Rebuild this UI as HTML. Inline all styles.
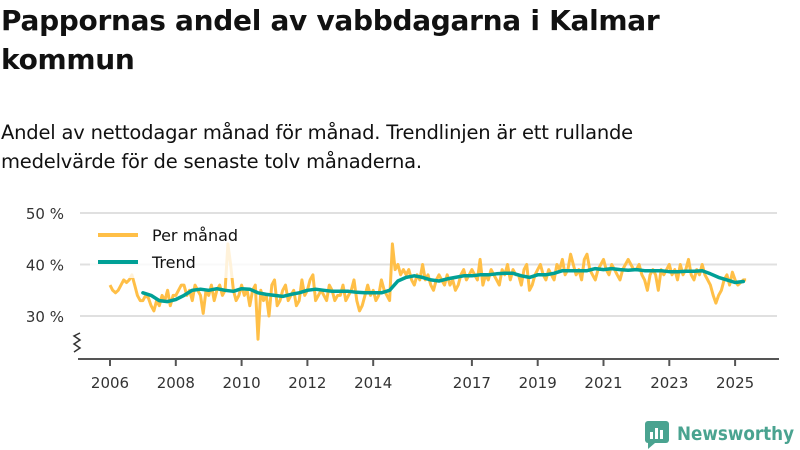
<!DOCTYPE html>
<html><head><meta charset="utf-8">
<style>
body{margin:0;width:800px;height:450px;background:#fff;font-family:"DejaVu Sans","Liberation Sans",sans-serif;color:#111;overflow:hidden;position:relative}
#title{position:absolute;left:1px;top:1px;font-size:28px;font-weight:bold;line-height:39px;margin:0;letter-spacing:-0.3px}
#sub{position:absolute;left:1px;top:118px;font-size:19.5px;line-height:29px;margin:0;letter-spacing:-0.2px}
svg{position:absolute;left:0;top:0;font-family:"DejaVu Sans","Liberation Sans",sans-serif}
</style></head><body>
<h1 id="title">Pappornas andel av vabbdagarna i Kalmar<br>kommun</h1>
<p id="sub">Andel av nettodagar månad för månad. Trendlinjen är ett rullande<br>medelvärde för de senaste tolv månaderna.</p>
<svg id="chart" width="800" height="450"></svg>
<script>
const monthlyStart = 2006.0;
const monthly = [
36,35,34.5,35,36,37,36.5,37,38,36,34,33,
33,34,33.5,32,31,33,32,34,33,35,32,34,
34,35,36,36,34,35,33,36,35,34,30.5,35,
34,36,33,35,36,34,35,44,40,35,33,34,
36,34,35,32,35,36,25.5,35,33,34,30,36,
37,32,33,35,36,33,34,35,32,33,37,34,
35,37,38,33,34,35,34,33,36,35,33,34,
34,36,33,34,35,37,33,31,32,34,36,34,
35,33,34,37,35,34,33,44,39,40,38,39,
38,39,37,36,38,37,40,37,38,36,35,37,
38,37,36,38,36,37,35,36,38,39,37,38,
39,38,37,41,36,38,37,39,38,37,36,39,
38,40,37,39,38,38,36,39,40,35,36,38,
39,40,38,37,39,38,37,40,39,41,38,39,
42,40,38,39,37,41,42,39,38,37,39,40,
41,39,38,40,39,38,37,39,40,41,40,39,
39,40,38,37,35,38,39,38,35,39,38,39,
40,38,39,37,40,38,39,41,38,37,39,38,
40,38,37,36,34,32.5,34,35,37,38,36,38.5,
37,36,36.5,37,37];
const trendStart = 2007.0;
const trendQuarterly = [
34.5,34,33,32.8, 33.2,34,35,35.2, 35,35.3,35,34.8, 35.3,35.2,34.5,34.2,
34,33.8,34.2,34.5, 35,35.2,35,34.8, 34.8,34.8,34.6,34.5, 34.5,34.5,35,36.8,
37.5,37.8,37.5,37, 36.8,37.2,37.5,37.8, 37.8,38,38,38.2, 38.3,38.3,37.8,37.5,
38,38,38.3,38.8, 38.8,38.8,38.8,39.2, 39,39.2,39,38.9, 39,38.8,38.8,38.8,
38.6,38.6,38.7,38.7, 38.8,38.2,37.5,37, 36.5,36.7];
const yTicks = [30,40,50];
const xTicks = [2006,2008,2010,2012,2014,2017,2019,2021,2023,2025];

const svg = document.getElementById('chart');
const NS = 'http://www.w3.org/2000/svg';
const x = v => 110 + (v - 2006) * 32.9;
const y = v => 316 - (v - 30) * 5.15;
function mk(tag, attrs, parent){const e=document.createElementNS(NS,tag);for(const k in attrs)e.setAttribute(k,attrs[k]);(parent||svg).appendChild(e);return e;}

yTicks.forEach(t=>{
  const g=mk('line',{x1:80,x2:777,y1:y(t),y2:y(t),stroke:'#e0e0e0','stroke-width':2});
  
  
  const l=mk('text',{x:64,y:y(t)+6,'text-anchor':'end','font-size':15,fill:'#333'});
  l.textContent=t+' %';
  
  
});
const ax=mk('line',{x1:78,x2:779,y1:359,y2:359,stroke:'#555','stroke-width':2});


const zz=mk('polyline',{points:'74,352 80,348 74,344 80,340 74,336 80,333',fill:'none',stroke:'#333','stroke-width':1.5});


xTicks.forEach(t=>{
  const tk=mk('line',{x1:x(t),x2:x(t),y1:359,y2:366,stroke:'#555','stroke-width':2});
  
  
  const l=mk('text',{x:x(t),y:388,'text-anchor':'middle','font-size':15,fill:'#333'});
  l.textContent=t;
  
  
});
const mp=monthly.map((v,i)=>x(monthlyStart+i/12).toFixed(1)+','+y(v).toFixed(1)).join(' ');
const ml=mk('polyline',{points:mp,fill:'none',stroke:'#ffbf47','stroke-width':3,'stroke-linejoin':'round'});


const tp=trendQuarterly.map((v,i)=>x(trendStart+i/4).toFixed(1)+','+y(v).toFixed(1)).join(' ');
const tl=mk('polyline',{points:tp,fill:'none',stroke:'#00a096','stroke-width':3.5,'stroke-linejoin':'round','stroke-linecap':'round'});



const lg=mk('g',{});


mk('rect',{x:90,y:222,width:170,height:56,fill:'#fff','fill-opacity':0.8},lg);
const e1=mk('line',{x1:98,x2:138,y1:235,y2:235,stroke:'#ffbf47','stroke-width':4},lg);


const t1=mk('text',{x:152,y:241,'font-size':16,fill:'#111'},lg);t1.textContent='Per månad';


const e2=mk('line',{x1:98,x2:138,y1:262,y2:262,stroke:'#00a096','stroke-width':4},lg);


const t2=mk('text',{x:152,y:268,'font-size':16,fill:'#111'},lg);t2.textContent='Trend';



const logo=mk('g',{});


mk('rect',{x:645,y:421,width:24,height:22,rx:3,fill:'#4aa390'},logo);
mk('polygon',{points:'648,443 655,443 648,449',fill:'#4aa390'},logo);
mk('rect',{x:650,y:432,width:3,height:7,fill:'#fff'},logo);
mk('rect',{x:655,y:428,width:3,height:11,fill:'#fff'},logo);
mk('rect',{x:660,y:430,width:3,height:9,fill:'#fff'},logo);
const lt=mk('text',{x:677,y:440,'font-size':19,'font-weight':'bold',fill:'#4aa390',textLength:117,lengthAdjust:'spacingAndGlyphs'},logo);
lt.textContent='Newsworthy';
</script>
</body></html>
